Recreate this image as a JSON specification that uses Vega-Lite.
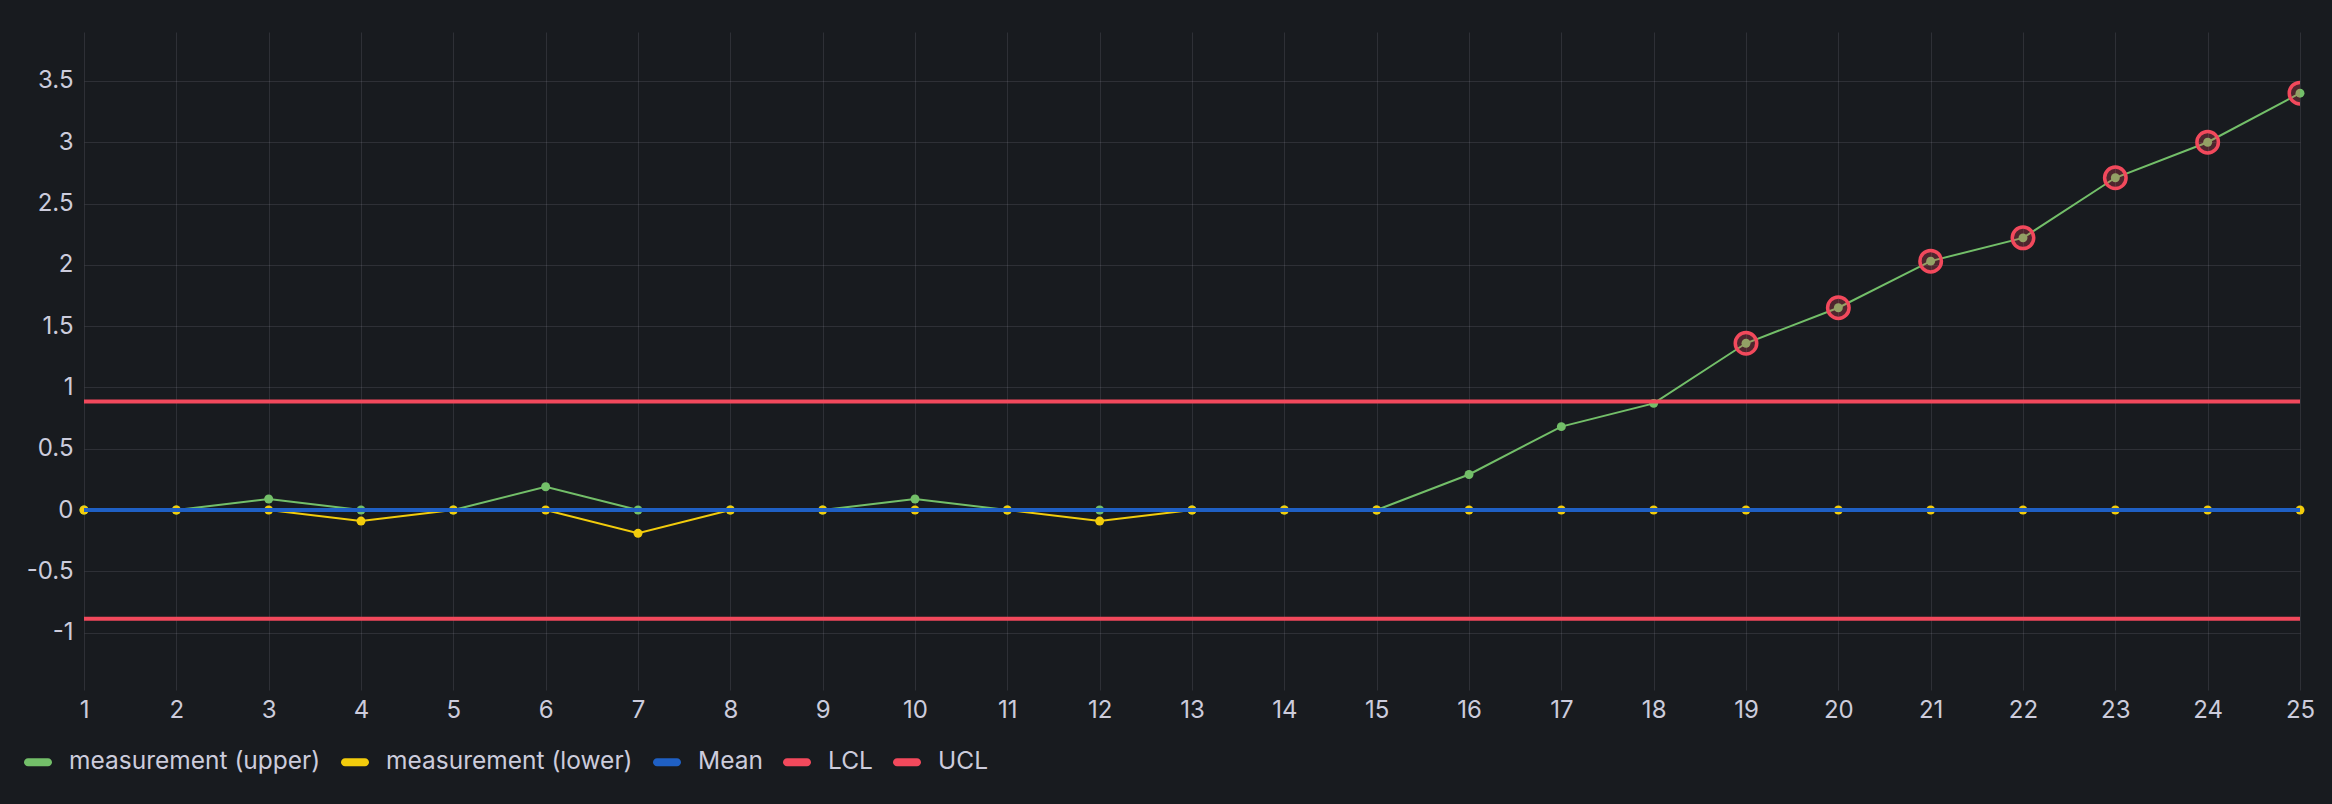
{
  "$schema": "https://vega.github.io/schema/vega-lite/v6.json",
  "width": 2216,
  "height": 658,
  "autosize": {"type": "none"},
  "padding": {"left": 84, "top": 32, "right": 32, "bottom": 114},
  "background": "#181b1f",
  "config": {
    "view": {"stroke": null},
    "font": "Inter",
    "axis": {
      "labelFont": "Inter",
      "labelFontSize": 24,
      "labelColor": "#ccccdc",
      "domain": false,
      "ticks": false,
      "tickSize": 0,
      "gridColor": "#ccccdc",
      "gridOpacity": 0.12,
      "gridWidth": 1,
      "title": null
    }
  },
  "datasets": {
    "main": [
      {"x": 1, "series": "measurement (upper)", "value": 0},
      {"x": 2, "series": "measurement (upper)", "value": 0},
      {"x": 3, "series": "measurement (upper)", "value": 0.09},
      {"x": 4, "series": "measurement (upper)", "value": 0},
      {"x": 5, "series": "measurement (upper)", "value": 0},
      {"x": 6, "series": "measurement (upper)", "value": 0.19},
      {"x": 7, "series": "measurement (upper)", "value": 0},
      {"x": 8, "series": "measurement (upper)", "value": 0},
      {"x": 9, "series": "measurement (upper)", "value": 0},
      {"x": 10, "series": "measurement (upper)", "value": 0.09},
      {"x": 11, "series": "measurement (upper)", "value": 0},
      {"x": 12, "series": "measurement (upper)", "value": 0},
      {"x": 13, "series": "measurement (upper)", "value": 0},
      {"x": 14, "series": "measurement (upper)", "value": 0},
      {"x": 15, "series": "measurement (upper)", "value": 0},
      {"x": 16, "series": "measurement (upper)", "value": 0.29},
      {"x": 17, "series": "measurement (upper)", "value": 0.68},
      {"x": 18, "series": "measurement (upper)", "value": 0.87},
      {"x": 19, "series": "measurement (upper)", "value": 1.36},
      {"x": 20, "series": "measurement (upper)", "value": 1.65},
      {"x": 21, "series": "measurement (upper)", "value": 2.03},
      {"x": 22, "series": "measurement (upper)", "value": 2.22},
      {"x": 23, "series": "measurement (upper)", "value": 2.71},
      {"x": 24, "series": "measurement (upper)", "value": 3.0},
      {"x": 25, "series": "measurement (upper)", "value": 3.4},
      {"x": 1, "series": "measurement (lower)", "value": 0},
      {"x": 2, "series": "measurement (lower)", "value": 0},
      {"x": 3, "series": "measurement (lower)", "value": 0},
      {"x": 4, "series": "measurement (lower)", "value": -0.09},
      {"x": 5, "series": "measurement (lower)", "value": 0},
      {"x": 6, "series": "measurement (lower)", "value": 0},
      {"x": 7, "series": "measurement (lower)", "value": -0.19},
      {"x": 8, "series": "measurement (lower)", "value": 0},
      {"x": 9, "series": "measurement (lower)", "value": 0},
      {"x": 10, "series": "measurement (lower)", "value": 0},
      {"x": 11, "series": "measurement (lower)", "value": 0},
      {"x": 12, "series": "measurement (lower)", "value": -0.09},
      {"x": 13, "series": "measurement (lower)", "value": 0},
      {"x": 14, "series": "measurement (lower)", "value": 0},
      {"x": 15, "series": "measurement (lower)", "value": 0},
      {"x": 16, "series": "measurement (lower)", "value": 0},
      {"x": 17, "series": "measurement (lower)", "value": 0},
      {"x": 18, "series": "measurement (lower)", "value": 0},
      {"x": 19, "series": "measurement (lower)", "value": 0},
      {"x": 20, "series": "measurement (lower)", "value": 0},
      {"x": 21, "series": "measurement (lower)", "value": 0},
      {"x": 22, "series": "measurement (lower)", "value": 0},
      {"x": 23, "series": "measurement (lower)", "value": 0},
      {"x": 24, "series": "measurement (lower)", "value": 0},
      {"x": 25, "series": "measurement (lower)", "value": 0}
    ],
    "limits": [
      {"series": "Mean", "value": 0},
      {"series": "LCL", "value": -0.886},
      {"series": "UCL", "value": 0.886}
    ]
  },
  "encoding": {
    "x": {
      "field": "x",
      "type": "quantitative",
      "scale": {"domain": [1, 25], "nice": false, "zero": false},
      "axis": {
        "values": [1,2,3,4,5,6,7,8,9,10,11,12,13,14,15,16,17,18,19,20,21,22,23,24,25],
        "format": "d",
        "labelPadding": 8,
        "labelFlush": false
      }
    },
    "y": {
      "field": "value",
      "type": "quantitative",
      "scale": {"domain": [-1.468, 3.899], "nice": false, "zero": false},
      "axis": {
        "values": [-1, -0.5, 0, 0.5, 1, 1.5, 2, 2.5, 3, 3.5],
        "labelExpr": "toString(datum.value)",
        "labelPadding": 11
      }
    },
    "color": {
      "field": "series",
      "type": "nominal",
      "scale": {
        "domain": ["measurement (upper)", "measurement (lower)", "Mean", "LCL", "UCL"],
        "range": ["#73BF69", "#F2CC0C", "#1F60C4", "#F2495C", "#F2495C"]
      },
      "legend": {
        "title": null,
        "orient": "none",
        "direction": "horizontal",
        "legendX": -60,
        "legendY": 716,
        "labelFont": "Inter",
        "labelFontSize": 24.5,
        "labelColor": "#ccccdc",
        "labelLimit": 0,
        "labelOffset": 17,
        "columnPadding": 20,
        "symbolType": "M-0.71,-0.29 L0.71,-0.29 A0.29,0.29 0 0 1 0.71,0.29 L-0.71,0.29 A0.29,0.29 0 0 1 -0.71,-0.29 Z",
        "symbolSize": 784,
        "symbolStrokeWidth": 0,
        "encode": {
          "symbols": {
            "update": {
              "fill": {"scale": "color", "field": "value"},
              "strokeWidth": {"value": 0}
            }
          }
        }
      }
    }
  },
  "layer": [
    {
      "data": {"name": "main"},
      "mark": {"type": "line", "strokeWidth": 2, "point": {"filled": true, "size": 80, "opacity": 1}}
    },
    {
      "data": {"name": "limits"},
      "mark": {"type": "rule", "strokeWidth": 4},
      "encoding": {"x": {"value": 0}, "x2": {"value": 2216}}
    },
    {
      "data": {"name": "main"},
      "transform": [{"filter": "datum.series == 'measurement (upper)' && datum.value > 0.886"}],
      "mark": {
        "type": "point",
        "shape": "circle",
        "size": 462,
        "filled": false,
        "stroke": "#F2495C",
        "strokeWidth": 3.5,
        "fill": "#F2495C",
        "fillOpacity": 0.25,
        "opacity": 1,
        "clip": true
      },
      "encoding": {"color": {"value": "#F2495C"}}
    }
  ]
}
